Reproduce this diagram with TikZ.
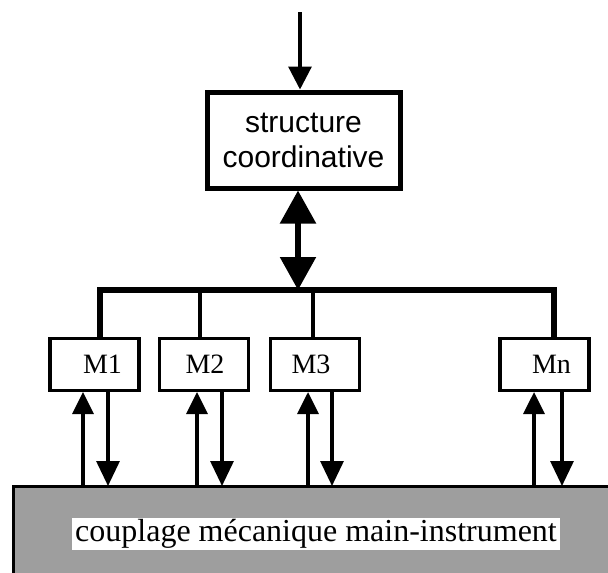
\documentclass[tikz,border=0pt]{standalone}
\usepackage{fontspec}
\setmainfont{Liberation Serif}
\newfontfamily\helv{Liberation Sans}
\usetikzlibrary{arrows.meta}
\begin{document}
\begin{tikzpicture}[x=1pt,y=-1pt,
  mbox/.style={draw,line width=3.2pt,minimum width=89pt,minimum height=52pt,inner sep=0pt},
  mlabel/.style={inner sep=0pt,font=\fontsize{28}{30}\selectfont},
  structbox/.style={draw,line width=5pt,minimum width=193pt,minimum height=96pt,inner sep=0pt,align=center,font=\helv\fontsize{30}{35}\selectfont},
  uparrow/.style={line width=3.2pt,-{Triangle[length=22pt,width=21pt]}},
  downarrow/.style={line width=3.2pt,-{Triangle[length=25pt,width=23pt]}},
  toparrow/.style={line width=3.2pt,-{Triangle[length=23pt,width=23pt]}},
  dblarrow/.style={line width=5.5pt,{Triangle[length=33pt,width=35pt]}-{Triangle[length=33pt,width=35pt]}},
  busline/.style={line width=5.5pt},
  dropline/.style={line width=4.5pt}]
\useasboundingbox (0,0) rectangle (608,573);
\fill[white] (0,0) rectangle (608,573);

\node[structbox] (struct) at (303.5,140) {structure\\coordinative};
\coordinate (top) at (300,12);
\draw[toparrow] (top) -- (top |- struct.north);

\node[mbox] (m1) at (94.5,364.5) {};
\node[mbox] (m2) at (204,364.5) {};
\node[mbox] (m3) at (315,364.5) {};
\node[mbox] (mn) at (544.5,364.5) {};
\node[mlabel] (l1) at (102.5,364) {M1};
\node[mlabel] (l2) at (205,364) {M2};
\node[mlabel] (l3) at (311,364) {M3};
\node[mlabel] (ln) at (551.5,364) {Mn};

% bus
\coordinate (busL) at (100,290);
\coordinate (busR) at (554,290);
\coordinate (busC) at (298,290);
\coordinate (d2) at (200,290);
\coordinate (d3) at (313,290);
\draw[busline] (busL |- m1.north) -- (busL) -- (busR) -- (busR |- mn.north);
\draw[dropline] (d2) -- (d2 |- m2.north);
\draw[dropline] (d3) -- (d3 |- m3.north);
\draw[dblarrow] (busC |- struct.south) -- (busC);

% coupling block
\node[minimum width=600pt,minimum height=95pt,inner sep=0pt,fill=black!38,anchor=north west] (coup) at (13,486) {};
\draw[line width=3pt] (coup.south west) -- (coup.north west) -- (coup.north east);
\node[fill=white,inner xsep=3pt,inner ysep=0pt,text height=23pt,text depth=9pt,font=\fontsize{32}{34}\selectfont] (lab) at (316,534) {couplage mécanique main-instrument};

% arrows
\coordinate (u1) at (83,0);  \coordinate (w1) at (108,0);
\coordinate (u2) at (197,0); \coordinate (w2) at (222,0);
\coordinate (u3) at (308,0); \coordinate (w3) at (332,0);
\coordinate (un) at (534,0); \coordinate (wn) at (562,0);
\draw[uparrow] (u1 |- coup.north) -- (u1 |- m1.south);
\draw[downarrow] (w1 |- m1.south) -- (w1 |- coup.north);
\draw[uparrow] (u2 |- coup.north) -- (u2 |- m2.south);
\draw[downarrow] (w2 |- m2.south) -- (w2 |- coup.north);
\draw[uparrow] (u3 |- coup.north) -- (u3 |- m3.south);
\draw[downarrow] (w3 |- m3.south) -- (w3 |- coup.north);
\draw[uparrow] (un |- coup.north) -- (un |- mn.south);
\draw[downarrow] (wn |- mn.south) -- (wn |- coup.north);
\end{tikzpicture}
\end{document}
